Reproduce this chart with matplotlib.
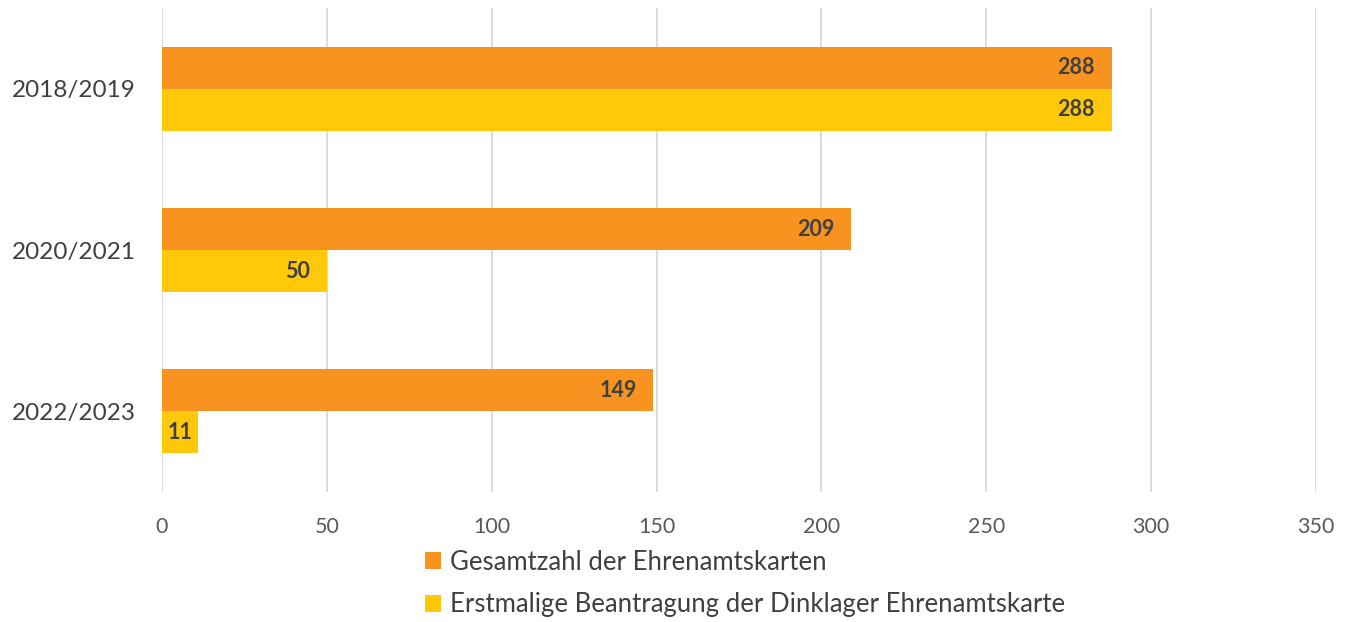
import numpy as np
import matplotlib.pyplot as plt
from matplotlib.patches import Patch

plt.rcParams['font.family'] = ['Lato', 'DejaVu Sans']

# data
jahre = ['2018/2019', '2020/2021', '2022/2023']
gesamt = [288, 209, 149]
erstmalig = [288, 50, 11]
serien = ['Gesamtzahl der Ehrenamtskarten',
          'Erstmalige Beantragung der Dinklager Ehrenamtskarte']

orange = '#F7931E'
gelb = '#FFC90A'
textfarbe = '#404040'

fig = plt.figure(figsize=(13.52, 6.22), dpi=100)
ax = fig.add_axes([0.1198, 0.209, 0.8536, 0.778])

pos = np.arange(len(jahre))
h = 0.26
b1 = ax.barh(pos - h / 2, gesamt, height=h, color=orange)
b2 = ax.barh(pos + h / 2, erstmalig, height=h, color=gelb)

for bars in (b1, b2):
    for b in bars:
        w = b.get_width()
        y = b.get_y() + b.get_height() / 2
        if w > 25:
            ax.text(w - 5, y, str(int(w)), ha='right', va='center',
                    fontsize=15.5, fontweight='bold', color=textfarbe)
        else:
            # too narrow: Excel puts the label in the middle
            ax.text(w / 2, y, str(int(w)), ha='center', va='center',
                    fontsize=15.5, fontweight='bold', color=textfarbe)

ax.set_xlim(0, 350)
ax.set_ylim(2.5, -0.5)
ax.set_xticks(np.arange(0, 351, 50))
ax.set_yticks(pos)
ax.set_yticklabels(jahre, fontsize=17.5, color=textfarbe)
ax.tick_params(axis='x', labelsize=15.5, labelcolor='#595959', length=0, pad=18)
ax.tick_params(axis='y', length=0, pad=19)
ax.xaxis.grid(True, color='#D9D9D9', linewidth=1.3)
ax.set_axisbelow(True)
for s in ax.spines.values():
    s.set_visible(False)

handles = [Patch(facecolor=orange, edgecolor='none'),
           Patch(facecolor=gelb, edgecolor='none')]
fig.legend(handles, serien, loc='upper left', bbox_to_anchor=(0.314, 0.116),
           frameon=False, fontsize=18.5, labelcolor=textfarbe,
           handlelength=0.65, handleheight=0.65, handletextpad=0.35,
           labelspacing=0.68, borderpad=0, borderaxespad=0)

fig.savefig('out.png', dpi=100)
